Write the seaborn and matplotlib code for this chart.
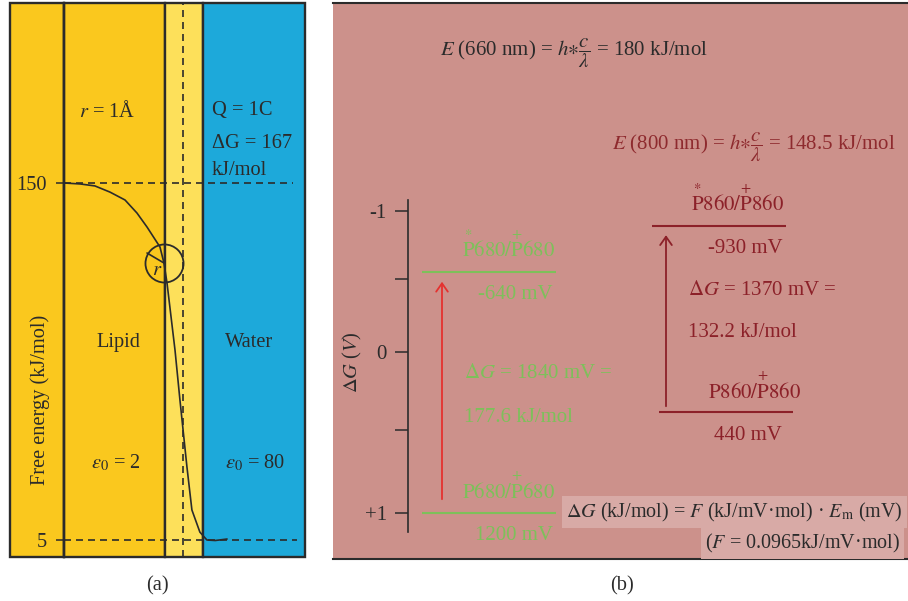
import numpy as np
import matplotlib
matplotlib.use("Agg")
import matplotlib.pyplot as plt
import seaborn as sns

sns.set_theme(style="white")
plt.rcParams["font.family"] = ["Liberation Serif", "DejaVu Serif"]
plt.rcParams["mathtext.fontset"] = "stix"

ink = "#2b2b2b"
green = "#7DC05A"
darkred = "#8C2129"
red = "#E5312F"

# ---- panel (a): ion crossing from lipid into water ----
# x = distance from the interface in Angstrom (ion radius r = 1 A)
region_names = ["", "Lipid", "", "Water"]
region_edges = [-9.1, -6.26, -0.95, 1.08, 6.42]
region_colors = ["#FAC81E", "#FAC81E", "#FDE05A", "#1DA9DA"]

dist = [-6.26, -5.4, -4.63, -3.84, -3.05, -2.42, -1.89, -1.21, -1.0, -0.84,
        -0.42, -0.16, 0.21, 0.47, 0.89, 1.26, 1.7, 2.32]
energy = [150, 149.6, 148.8, 146.3, 143.1, 137.8, 132.1, 124.0, 117.5, 109.4,
          82.2, 61.9, 34.6, 17.2, 8.2, 5.0, 4.8, 5.4]
energy_ticks = [5, 150]
ion_x = -1.0

# ---- panel (b): redox levels of the two photosystems ----
level_names = [r"$\overset{*}{\mathrm{P}}\mathrm{680/}\overset{+}{\mathrm{P}}\mathrm{680}$",
               r"$\mathrm{P680/}\overset{+}{\mathrm{P}}\mathrm{680}$",
               r"$\overset{*}{\mathrm{P}}\mathrm{860/}\overset{+}{\mathrm{P}}\mathrm{860}$",
               r"$\mathrm{P860/}\overset{+}{\mathrm{P}}\mathrm{860}$"]
level_mV = [-640, 1200, -930, 440]
level_pos = [-0.55, 1.0, -0.886, 0.39]   # where each level sits on the drawn ΔG axis (V)
level_system = [0, 0, 1, 1]
systems = ["P680", "P860"]
dG_mV = [1840, 1370]
dG_kJ = [177.6, 132.2]
E_nm = [660, 800]
E_kJ = [180, 148.5]
dG_ticks = [-1, 0, 1]
dG_ticklabels = ["-1", "0", "+1"]


def to_px(v):
    # the printed ΔG axis is slightly stretched towards +1
    return 151 * v + 10 * v ** 2


def from_px(p):
    return (-151 + np.sqrt(np.maximum(151 ** 2 + 40 * p, 0))) / 20


W, H = 908, 601
fig = plt.figure(figsize=(W / 100, H / 100), dpi=100)


def fx(px):
    return px / W


def fy(py):
    return 1 - py / H


def box(x0, y0, x1, y1):
    return [fx(x0), fy(y1), fx(x1) - fx(x0), fy(y0) - fy(y1)]


fs_a = 14.7
fs_b = 15

# panel (a)
ax_a = fig.add_axes(box(10, 3, 305, 557))
for left, right, color in zip(region_edges[:-1], region_edges[1:], region_colors):
    ax_a.axvspan(left, right, facecolor=color, edgecolor=ink, lw=1.7, zorder=0, clip_on=False)
ax_a.set_xlim(region_edges[0], region_edges[-1])
ax_a.set_ylim(-1.9, 223.1)

ax_a.hlines(energy_ticks, xmin=region_edges[1], xmax=[6.0, 5.79], colors=ink,
            lw=1.2, linestyles=(0, (4.2, 3)))
ax_a.axvline(0, color=ink, lw=1.2, ls=(0, (4.2, 3)))
sns.lineplot(x=dist, y=energy, sort=False, estimator=None, color=ink, lw=1.2, ax=ax_a)

ion_y = np.interp(ion_x, dist, energy)
ax_a.plot(ion_x, ion_y, "o", ms=27.4, mfc="none", mec=ink, mew=1.3)
ax_a.annotate("", xy=(ion_x, ion_y), xytext=(-12.2, 7.2), textcoords="offset points",
              arrowprops=dict(arrowstyle="-", color=ink, lw=1.2, shrinkA=0, shrinkB=0))
ax_a.annotate("$r$", xy=(ion_x, ion_y), xytext=(-5, -5.5), textcoords="offset points",
              ha="center", va="center", fontsize=fs_a, color=ink)

ax_a.set_xticks([])
ax_a.set_yticks(energy_ticks)
ax_a.spines["left"].set_position(("data", region_edges[1]))
ax_a.spines["left"].set_color(ink)
ax_a.spines["left"].set_linewidth(1.7)
for s in ["top", "right", "bottom"]:
    ax_a.spines[s].set_visible(False)
ax_a.tick_params(axis="y", left=True, direction="out", length=5.5, width=1.1, pad=7,
                 labelsize=fs_a, colors=ink)

fig.text(fx(40), fy(400), "Free energy (kJ/mol)", rotation=90, ha="center", va="center",
         fontsize=fs_a, color=ink)
fig.text(fx(107), fy(117), "$r$ = 1Å", ha="center", va="baseline", fontsize=fs_a, color=ink)
fig.text(fx(212), fy(115), "Q = 1C", ha="left", va="baseline", fontsize=fs_a, color=ink)
fig.text(fx(212), fy(148), "ΔG = 167", ha="left", va="baseline", fontsize=fs_a, color=ink)
fig.text(fx(212), fy(175), "kJ/mol", ha="left", va="baseline", fontsize=fs_a, color=ink)
fig.text(fx(118), fy(347), region_names[1], ha="center", va="baseline", fontsize=fs_a, color=ink)
fig.text(fx(249), fy(347), region_names[3], ha="center", va="baseline", fontsize=fs_a, color=ink)
fig.text(fx(116), fy(468), r"$\varepsilon_0$ = 2", ha="center", va="baseline", fontsize=fs_a, color=ink)
fig.text(fx(255), fy(468), r"$\varepsilon_0$ = 80", ha="center", va="baseline", fontsize=fs_a, color=ink)
fig.text(fx(157), fy(586), "(a)", ha="center", va="center", fontsize=fs_a, color=ink)

# panel (b)
ax_bg = fig.add_axes(box(333, 3, 908, 559))
ax_bg.set_facecolor("#CC918B")
ax_bg.set_xticks([])
ax_bg.set_yticks([])
for s in ["left", "right"]:
    ax_bg.spines[s].set_visible(False)
for s in ["top", "bottom"]:
    ax_bg.spines[s].set_color(ink)
    ax_bg.spines[s].set_linewidth(1.5)

ax_b = fig.add_axes(box(408, 200, 908, 532))
ax_b.set_facecolor("none")
ax_b.set_yscale("function", functions=(to_px, from_px))
ax_b.set_ylim(1.11, -1.085)
ax_b.set_xlim(0, 1)
ax_b.set_xticks([])
ax_b.set_yticks(dG_ticks, labels=dG_ticklabels)
ax_b.set_yticks([-0.5, 0.5], minor=True)
for s in ["top", "right", "bottom"]:
    ax_b.spines[s].set_visible(False)
ax_b.spines["left"].set_color(ink)
ax_b.spines["left"].set_linewidth(1.2)
ax_b.tick_params(axis="y", which="both", left=True, direction="out", length=9.4, width=1.1,
                 pad=5.8, labelsize=fs_b, colors=ink)

system_colors = [green, darkred]
line_x0 = [0.028, 0.028, 0.488, 0.502]
line_x1 = [0.296, 0.296, 0.756, 0.770]
label_x = [0.294, 0.294, 0.752, 0.786]
value_x = [0.290, 0.290, 0.750, 0.748]
for i in range(len(level_mV)):
    c = system_colors[level_system[i]]
    ax_b.hlines(level_pos[i], line_x0[i], line_x1[i], colors=c, lw=1.5)
    ax_b.annotate(level_names[i], xy=(label_x[i], level_pos[i]), xytext=(0, 10),
                  textcoords="offset points", ha="right", va="baseline", fontsize=fs_b, color=c)
    ax_b.annotate(f"{level_mV[i]} mV", xy=(value_x[i], level_pos[i]), xytext=(0, -19.5),
                  textcoords="offset points", ha="right", va="baseline", fontsize=fs_b, color=c)

arrow_x = [0.068, 0.516]
arrow_colors = [red, darkred]
arrow_shrink = [(10, 7), (4.5, 6.5)]
for k in range(len(systems)):
    up = [i for i in range(len(level_mV)) if level_system[i] == k]
    ground = max(up, key=lambda i: level_mV[i])
    excited = min(up, key=lambda i: level_mV[i])
    ax_b.annotate("", xy=(arrow_x[k], level_pos[excited]), xytext=(arrow_x[k], level_pos[ground]),
                  arrowprops=dict(arrowstyle="->,head_length=0.5,head_width=0.35",
                                  color=arrow_colors[k], lw=1.3,
                                  shrinkA=arrow_shrink[k][0], shrinkB=arrow_shrink[k][1]))

dG_text_xy = [(464, 378, 422), (688, 295, 337)]
for k in range(len(systems)):
    x0, y1, y2 = dG_text_xy[k]
    c = system_colors[k]
    fig.text(fx(x0), fy(y1), rf"$\Delta G$ = {dG_mV[k]} mV =", ha="left", va="baseline",
             fontsize=fs_b, color=c)
    fig.text(fx(x0), fy(y2), f"{dG_kJ[k]} kJ/mol", ha="left", va="baseline",
             fontsize=fs_b, color=c)

E_xy = [(440, 55), (612, 150)]
E_colors = [ink, "#8E2A2E"]
for k in range(len(E_nm)):
    fig.text(fx(E_xy[k][0]), fy(E_xy[k][1]),
             rf"$E$ ({E_nm[k]} nm) = $h{{\ast}}\dfrac{{c}}{{\lambda}}$ = {E_kJ[k]:g} kJ/mol",
             ha="left", va="baseline", fontsize=fs_b, color=E_colors[k])

fig.text(fx(352), fy(362), r"$\Delta G$ ($V$)", rotation=90, ha="center", va="center",
         fontsize=fs_a, color=ink)

fs_f = 14.5
fig.text(fx(566), fy(512), r"$\Delta G$ (kJ/mol) = $F$ (kJ/mV·mol) · $E_\mathrm{m}$ (mV)",
         ha="left", va="center", fontsize=fs_f, color=ink,
         bbox=dict(boxstyle="square,pad=0.2", fc="#D8AAA6", ec="none"))
fig.text(fx(705), fy(543), r"($F$ = 0.0965kJ/mV·mol)",
         ha="left", va="center", fontsize=fs_f, color=ink,
         bbox=dict(boxstyle="square,pad=0.2", fc="#D8AAA6", ec="none"))
fig.text(fx(622), fy(586), "(b)", ha="center", va="center", fontsize=fs_a, color=ink)

fig.savefig("out.png", dpi=100)
